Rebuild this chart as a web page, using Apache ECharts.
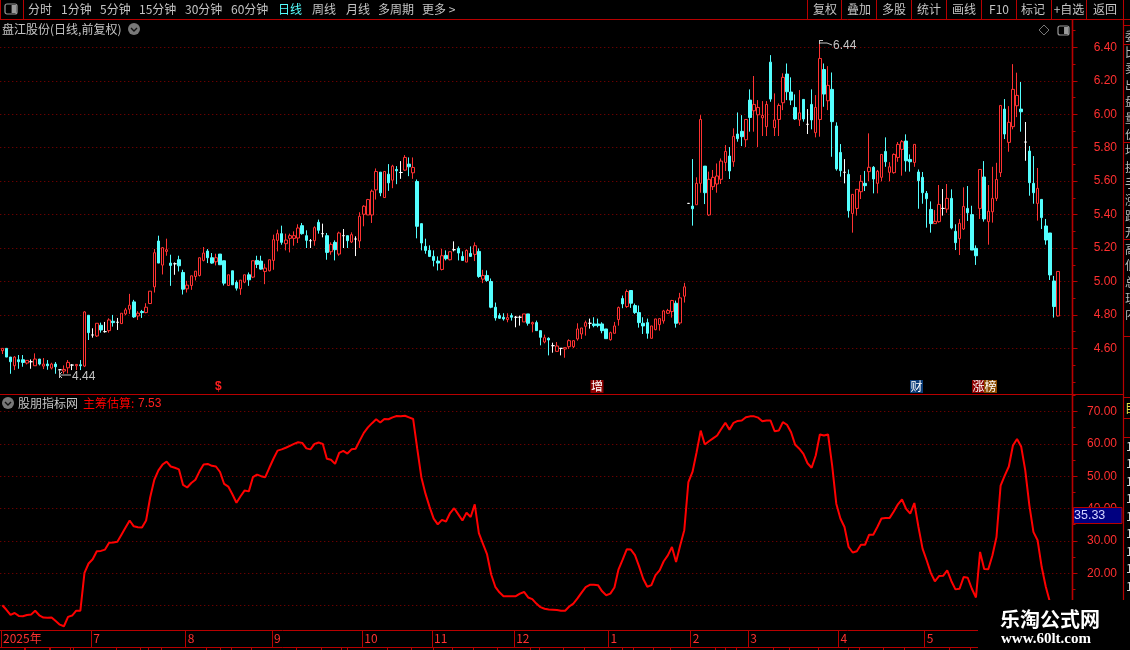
<!DOCTYPE html>
<html><head><meta charset="utf-8">
<style>html,body{margin:0;padding:0;background:#000;overflow:hidden}#c{width:1130px;height:650px}</style>
<script src="https://cdn.jsdelivr.net/npm/echarts@6/dist/echarts.min.js"></script>
</head><body><div id="c"></div>
<script>
const opens=[4.586,4.6,4.548,4.496,4.532,4.532,4.512,4.52,4.496,4.536,
4.494,4.506,4.482,4.506,4.472,4.464,4.484,4.5,4.496,4.502,
4.494,4.798,4.68,4.674,4.738,4.7,4.706,4.762,4.756,4.748,
4.806,4.834,4.878,4.794,4.82,4.814,4.868,4.968,5.242,5.098,
5.18,5.11,5.106,5.13,5.054,4.956,4.976,5.03,5.036,5.126,
5.182,5.142,5.118,5.164,5.124,4.976,5.064,4.994,4.956,4.996,
5.04,5.026,5.126,5.122,5.06,5.064,5.126,5.246,5.286,5.226,
5.258,5.258,5.26,5.334,5.274,5.244,5.244,5.354,5.286,5.274,
5.178,5.234,5.164,5.274,5.274,
5.236,5.254,5.242,5.402,5.398,5.398,5.548,5.654,5.502,5.642,
5.606,5.67,5.652,5.666,5.702,5.65,5.598,5.346,5.21,5.186,
5.15,5.122,5.072,5.156,5.13,5.19,5.198,5.15,5.116,5.168,
5.162,5.18,5.014,5.036,5.0,4.846,4.796,4.786,4.772,4.796,
4.786,4.786,4.758,4.806,4.746,4.754,4.706,4.638,4.66,4.616,
4.582,4.6,4.596,4.61,4.61,4.656,4.686,4.732,4.75,4.746,
4.746,4.746,4.716,4.652,4.69,4.772,4.898,4.85,4.946,4.856,
4.814,4.75,4.754,4.66,4.712,4.742,4.764,4.81,4.82,4.87,
4.752,4.912,5.467,
5.451,5.459,5.587,5.69,5.398,5.567,5.583,5.611,5.712,5.75,
5.716,5.882,5.898,5.848,6.085,6.021,5.997,5.979,5.926,6.312,
5.92,5.969,6.069,6.241,6.133,6.041,5.966,6.089,5.94,6.059,
5.89,5.969,6.268,6.081,6.149,5.93,5.772,5.653,5.641,5.407,
5.437,5.537,5.587,5.657,5.683,5.587,
5.623,5.778,5.653,5.651,5.742,5.79,5.84,5.73,5.712,5.655,
5.623,5.527,5.431,5.346,5.358,5.437,5.433,5.497,5.3,5.256,
5.314,5.437,5.4,5.198,5.437,5.625,5.358,5.417,5.497,5.651,
6.031,5.832,5.926,6.051,6.031,5.834,5.78,5.587,5.467,5.491,
5.332,5.29,5.003,4.794];
const closes=[4.6,4.548,4.52,4.548,4.52,4.516,4.528,4.52,4.536,4.506,
4.506,4.496,4.506,4.49,4.472,4.474,4.516,4.5,4.504,4.496,
4.818,4.694,4.68,4.75,4.71,4.7,4.77,4.754,4.756,4.81,
4.83,4.858,4.788,4.81,4.814,4.846,4.942,5.172,5.11,5.202,
5.19,5.096,5.106,5.094,4.954,4.978,5.034,5.062,5.142,5.17,
5.142,5.11,5.142,5.1,4.99,5.04,4.98,4.96,5.008,5.04,
5.01,5.124,5.102,5.074,5.08,5.13,5.25,5.286,5.234,5.248,
5.274,5.274,5.32,5.286,5.246,5.244,5.322,5.306,5.286,5.174,
5.222,5.19,5.29,5.274,5.244,
5.28,5.254,5.39,5.45,5.49,5.54,5.658,5.53,5.658,5.59,
5.69,5.662,5.652,5.742,5.686,5.682,5.33,5.23,5.186,5.15,
5.126,5.11,5.154,5.136,5.178,5.19,5.17,5.126,5.186,5.15,
5.214,5.03,5.036,5.006,4.846,4.782,4.78,4.776,4.784,4.786,
4.786,4.786,4.806,4.75,4.754,4.706,4.666,4.664,4.65,4.616,
4.614,4.6,4.604,4.646,4.646,4.716,4.722,4.754,4.75,4.736,
4.736,4.706,4.658,4.694,4.734,4.844,4.866,4.94,4.87,4.814,
4.754,4.734,4.69,4.734,4.776,4.778,4.824,4.826,4.886,4.75,
4.902,4.968,5.467,
5.435,5.587,5.969,5.531,5.611,5.623,5.631,5.72,5.778,5.661,
5.868,5.854,5.866,5.969,5.981,6.059,6.041,5.993,6.059,6.091,
5.966,6.053,6.221,6.135,6.085,5.972,6.009,5.972,5.94,5.966,
6.041,6.334,6.121,6.173,5.956,5.673,5.663,5.653,5.423,5.521,
5.551,5.599,5.573,5.683,5.613,5.659,
5.76,5.716,5.686,5.76,5.82,5.836,5.722,5.716,5.82,5.603,
5.531,5.495,5.346,5.36,5.461,5.437,5.497,5.32,5.232,5.348,
5.449,5.411,5.188,5.154,5.67,5.374,5.42,5.497,5.61,6.053,
5.882,5.952,6.149,6.113,6.015,5.834,5.591,5.531,5.557,5.382,
5.248,5.039,4.85,5.06];
const highs=[4.6,4.6,4.548,4.554,4.56,4.56,4.53,4.534,4.57,4.536,
4.542,4.53,4.514,4.518,4.476,4.498,4.53,4.506,4.504,4.53,
4.822,4.798,4.72,4.75,4.754,4.758,4.78,4.8,4.782,4.81,
4.842,4.926,4.89,4.822,4.83,4.87,4.942,5.194,5.274,5.206,
5.256,5.16,5.114,5.154,5.07,5.004,5.034,5.062,5.142,5.206,
5.194,5.17,5.166,5.164,5.124,5.04,5.064,5.006,5.008,5.04,
5.054,5.124,5.154,5.154,5.106,5.13,5.28,5.31,5.334,5.286,
5.286,5.3,5.342,5.35,5.306,5.254,5.33,5.37,5.346,5.29,
5.234,5.246,5.298,5.314,5.274,
5.294,5.27,5.414,5.456,5.494,5.55,5.676,5.654,5.658,5.702,
5.698,5.69,5.72,5.756,5.742,5.742,5.61,5.346,5.256,5.216,
5.186,5.15,5.196,5.186,5.178,5.24,5.21,5.18,5.192,5.21,
5.234,5.198,5.07,5.066,5.018,4.874,4.81,4.81,4.81,4.81,
4.794,4.796,4.806,4.806,4.76,4.766,4.706,4.682,4.666,4.634,
4.638,4.602,4.606,4.654,4.648,4.75,4.722,4.766,4.778,4.786,
4.778,4.756,4.716,4.7,4.758,4.85,4.916,4.952,4.946,4.868,
4.856,4.786,4.778,4.734,4.776,4.778,4.83,4.836,4.89,4.886,
4.932,4.992,5.467,
5.732,5.623,5.995,5.69,5.657,5.667,5.706,5.736,5.816,5.804,
5.916,6.011,5.995,5.969,6.149,6.229,6.085,6.079,6.079,6.354,
6.125,6.065,6.245,6.304,6.221,6.119,6.145,6.089,6.031,6.149,
6.115,6.44,6.304,6.288,6.25,5.952,5.822,5.732,5.67,5.521,
5.551,5.637,5.661,5.886,5.69,5.667,
5.76,5.862,5.714,5.766,5.834,5.846,5.88,5.76,5.82,5.67,
5.655,5.541,5.479,5.427,5.577,5.553,5.583,5.551,5.342,5.374,
5.563,5.571,5.453,5.216,5.67,5.72,5.577,5.686,5.71,6.053,
6.091,6.049,6.3,6.249,6.193,5.954,5.81,5.75,5.679,5.491,
5.374,5.29,5.033,5.06];
const lows=[4.566,4.548,4.448,4.47,4.478,4.49,4.504,4.478,4.496,4.498,
4.476,4.472,4.474,4.448,4.44,4.448,4.45,4.47,4.47,4.47,
4.488,4.65,4.664,4.668,4.694,4.694,4.694,4.73,4.71,4.748,
4.798,4.806,4.782,4.77,4.782,4.81,4.868,4.934,5.11,5.042,
5.154,4.974,5.04,5.06,4.922,4.934,4.95,5.006,5.03,5.12,
5.11,5.106,5.096,5.1,4.976,4.976,4.98,4.946,4.92,4.99,
4.974,5.02,5.08,5.07,4.984,5.06,5.07,5.18,5.22,5.186,
5.174,5.214,5.23,5.28,5.2,5.2,5.214,5.286,5.264,5.13,
5.16,5.126,5.154,5.2,5.2,
5.23,5.152,5.2,5.33,5.398,5.35,5.49,5.51,5.5,5.542,
5.558,5.582,5.614,5.662,5.63,5.614,5.258,5.186,5.166,5.146,
5.09,5.066,5.066,5.126,5.126,5.18,5.126,5.126,5.116,5.15,
5.122,5.022,4.99,4.998,4.84,4.766,4.776,4.766,4.756,4.766,
4.726,4.736,4.758,4.736,4.696,4.706,4.618,4.63,4.558,4.574,
4.58,4.558,4.544,4.596,4.602,4.646,4.656,4.676,4.718,4.726,
4.726,4.69,4.658,4.646,4.69,4.736,4.84,4.842,4.842,4.806,
4.724,4.686,4.658,4.66,4.708,4.706,4.748,4.806,4.784,4.724,
4.74,4.874,5.467,
5.334,5.459,5.531,5.463,5.392,5.547,5.531,5.583,5.661,5.613,
5.686,5.836,5.81,5.804,5.896,5.896,5.804,5.87,5.87,6.075,
5.87,5.87,6.025,6.085,6.055,5.966,5.93,5.956,5.882,5.91,
5.862,5.866,6.045,6.025,5.746,5.663,5.627,5.587,5.382,5.292,
5.394,5.493,5.541,5.601,5.527,5.527,
5.599,5.686,5.599,5.645,5.716,5.633,5.657,5.657,5.686,5.435,
5.465,5.322,5.292,5.344,5.352,5.394,5.411,5.312,5.188,5.158,
5.308,5.362,5.188,5.099,5.374,5.358,5.22,5.352,5.481,5.625,
5.852,5.776,5.91,5.983,5.896,5.722,5.513,5.465,5.364,5.314,
5.22,5.009,4.784,4.79];
const chipEstimate=[10.1,8.7,7.1,7.7,6.8,6.7,7.1,7.2,8.4,7.0,
6.3,6.2,6.3,5.2,4.1,3.6,6.5,6.9,8.4,8.4,
20.1,23.0,24.3,26.8,26.9,27.3,29.4,29.5,29.7,31.9,
34.1,36.3,34.5,34.2,34.1,36.3,43.5,48.9,51.8,53.6,
54.5,53.0,52.6,52.1,47.3,46.5,47.9,48.9,51.5,53.6,
53.8,53.2,53.0,51.3,47.6,46.8,44.4,41.8,43.8,45.6,
45.3,49.7,50.5,50.0,49.7,52.6,55.4,57.9,58.3,58.8,
59.4,60.0,60.5,60.3,58.6,58.3,60.0,60.4,60.0,55.4,
55.1,53.8,57.2,57.8,57.0,58.3,58.5,61.0,63.4,65.1,
66.4,67.6,66.6,67.7,67.6,68.2,68.6,68.5,68.7,68.2,
67.7,58.5,49.7,44.6,40.5,36.9,35.1,36.5,36.0,38.6,
40.1,38.2,36.3,38.7,37.4,41.3,32.4,29.1,25.8,19.6,
15.8,14.1,12.9,12.9,12.9,12.9,13.7,14.2,12.5,12.0,
10.6,9.5,9.0,8.8,8.7,8.6,8.4,8.4,9.7,10.6,
12.2,14.0,15.7,16.4,16.4,16.3,14.4,13.2,13.7,15.6,
21.2,24.2,27.4,27.3,25.6,22.1,18.3,15.8,16.3,19.4,
20.9,23.7,25.5,28.1,23.5,28.6,33.3,48.2,51.3,57.4,
64.1,59.8,60.8,61.7,62.6,64.6,66.5,64.4,66.5,67.1,
67.2,68.2,68.5,68.5,68.1,67.0,67.2,67.2,63.9,64.1,
66.7,65.9,63.6,59.7,58.5,56.9,54.0,52.6,56.4,62.9,
62.6,62.9,53.3,41.5,36.9,34.3,28.1,26.4,26.8,28.8,
28.8,31.9,31.9,34.3,36.9,37.1,37.1,39.1,41.3,42.8,
39.9,38.4,41.7,34.3,27.6,24.0,20.1,17.5,19.1,19.2,
20.9,17.6,15.0,15.2,18.8,18.6,15.2,12.5,26.6,21.3,
21.2,25.5,31.2,47.1,50.2,53.0,59.5,61.5,59.2,51.8,
41.0,32.7,30.2,21.9,15.8,11.1,9.4,7.53];

const categories=Array.from({length:261},(_,i)=>String(i));
const priceTicks=[4.6,4.8,5.0,5.2,5.4,5.6,5.8,6.0,6.2,6.4];
const priceMinorTicks=[4.4,4.5,4.7,4.9,5.1,5.3,5.5,5.7,5.9,6.1,6.3,6.5];
const indicatorTicks=[10,20,30,40,50,60,70];
const indicatorMinorTicks=[5,15,25,35,45,55,65,75];
const monthIndex=[0,22,45,66,88,105,125,148,168,182,204,225];
const monthLabels=['2025年','7','8','9','10','11','12','1','2','3','4','5'];
const weekIndex=[6,12,17,28,34,39,50,56,61,72,78,83,94,100,110,115,121,131,137,142,154,159,163,174,179,188,192,199,209,215,220,231,236];
const leftTools=['分时','1分钟','5分钟','15分钟','30分钟','60分钟','日线','周线','月线','多周期','更多 >'];
const leftToolX=[28,61,100,139,185,231,278,312,346,378,422];
const rightTools=['复权','叠加','多股','统计','画线','F10','标记','+自选','返回'];
const rightToolX=[825,859,894,929,964,999,1033,1069,1105];
const rightToolSep=[807.5,841.5,876.5,911.5,946.5,981.5,1016.5,1051.5,1086.5];

const FRAME='#b80000',TXT='#ff3030',GREY='#c4c4c4',CJK='"Noto Sans CJK SC",sans-serif',NUM='"Liberation Sans",sans-serif';
const line=(x1,y1,x2,y2,c=FRAME,w=1)=>({type:'line',shape:{x1,y1,x2,y2},style:{stroke:c,lineWidth:w}});
const text=(t,x,y,c,font,o={})=>({type:'text',x,y,style:Object.assign({text:t,fill:c,font,textVerticalAlign:'middle'},o)});
const rect=(x,y,w,h,fill,stroke)=>({type:'rect',shape:{x,y,width:w,height:h},style:{fill:fill,stroke:stroke||null}});
const F12=`12px ${CJK}`;
const chevron=(cx,cy)=>[{type:'circle',shape:{cx,cy,r:6},style:{fill:'#787878'}},
 {type:'polyline',shape:{points:[[cx-3,cy-1],[cx,cy+2],[cx+3,cy-1]]},style:{stroke:'#111',fill:null,lineWidth:1.4}}];
const panelIcon=(x,y,w,h)=>[{type:'rect',shape:{x,y,width:w,height:h,r:2},style:{fill:'#000',stroke:'#9a9a9a',lineWidth:1.2}},
 rect(x+w*0.55,y+1,w*0.4,h-2,'#9a9a9a')];

const els=[];
// toolbar
els.push(line(0,19.5,1130,19.5),line(0.5,0,0.5,19.5),line(23.5,0,23.5,19.5));
els.push(...panelIcon(5,4,12,10));
leftTools.forEach((t,i)=>els.push(text(t,leftToolX[i],9.5,i===6?'#55ffff':GREY,F12)));
rightTools.forEach((t,i)=>els.push(text(t,rightToolX[i],9.5,GREY,F12,{textAlign:'center'})));
rightToolSep.forEach(x=>els.push(line(x,0,x,19.5)));
els.push(line(1123.5,0,1123.5,19.5));
// titles
els.push(text('盘江股份(日线,前复权)',2,29.5,GREY,F12));
els.push(...chevron(134,29));
els.push({type:'polygon',shape:{points:[[1044,25],[1049,30],[1044,35],[1039,30]]},style:{fill:null,stroke:'#777'}});
els.push(...panelIcon(1058,26,11,9));
els.push(...chevron(8,403));
els.push(text('股朋指标网',18,403.5,GREY,F12));
els.push(text('主筹估算:',83,403.5,'#ff0000',F12));
els.push(text('7.53',138,403.5,'#ff2020',`12px ${NUM}`));
// panel frames
els.push(line(0,394.5,1123,394.5,FRAME,1.2),line(0,630.5,1130,630.5),line(0,647.5,1130,647.5));
els.push(line(1072.5,19.5,1072.5,647,FRAME,1.6),line(1123.5,19.5,1123.5,647,FRAME,1.2));
// high / low notes
els.push(line(59.5,370,59.5,378,GREY),line(59,375,71,375,GREY),line(59,375,62,372,GREY),line(59,375,62,378,GREY));
els.push(text('4.44',72,376.5,GREY,`12px ${NUM}`));
els.push(line(819.5,40,819.5,44,GREY),line(819,40.5,823,40.5,GREY),line(820,43,827,43,GREY),line(827,43,832,45,GREY));
els.push(text('6.44',833,45.5,GREY,`12px ${NUM}`));
// event markers
els.push(text('$',215,386.5,'#ff2020',`bold 12px ${NUM}`));
const badge=(t,x,c)=>{els.push(rect(x,380,13,13,c));els.push(text(t,x+0.5,386.5,'#fff',F12));};
badge('增',590.5,'#8c0000');badge('财',910,'#0a3c78');badge('涨',972,'#8c0000');badge('榜',984,'#8a4a00');
// right strip
[25,44,142,239,336,397,418,437].forEach(y=>els.push(line(1123.5,y+.5,1130,y+.5)));
['委','比','卖','出','盘','量','价','均','换','手','涨','跌','开','高','低','总','现','内'].forEach((c,i)=>els.push(text(c,1125,36+i*16.4,'#b8b8b8',F12)));
els.push(text('目',1125,408,'#e0e040',F12));
for(let i=0;i<9;i++)els.push(text('1',1126,446+i*17.5,'#d8d8d8',F12));
// value box
els.push(rect(1073.5,507.5,48.5,16,'#000080',FRAME));
els.push(text('35.33',1074,516,'#d4d4ff',`12.5px ${NUM}`));
// bottom row fragments
[24,49,73,116,148,220,347,433,530,622,725,848].forEach(x=>els.push(line(x+0.5,647,x+0.5,650)));
// watermark
els.push(rect(978,600,152,50,'#000'));
els.push(text('乐淘公式网',1000,619.5,'#fff',`bold 20px ${CJK}`,{shadowColor:'#4060a0',shadowBlur:3}));
els.push(text('www.60lt.com',1001,639.5,'#fff',`bold 15px "Liberation Serif",serif`,{shadowColor:'#4060a0',shadowBlur:2}));
els.forEach(e=>{e.z=100;e.zlevel=1;});

const splitDots={show:true,lineStyle:{color:'#8c0000',type:[1,3],width:1}};
const PL=0.25,PW=1072.25;
const hiddenX=g=>({type:'category',gridIndex:g,data:categories,show:false,boundaryGap:true});
const yMain=(g,min,max,ticks)=>({type:'value',gridIndex:g,position:'right',min,max,scale:true,
 axisLine:{show:false},
 axisTick:{show:true,length:5,lineStyle:{color:FRAME},customValues:ticks},
 axisLabel:{show:true,customValues:ticks,formatter:v=>v.toFixed(2),color:TXT,fontFamily:NUM,fontSize:12,align:'right',margin:44.5},
 splitLine:splitDots});
const yMinor=(g,min,max,ticks)=>({type:'value',gridIndex:g,position:'right',min,max,
 axisLine:{show:false},axisLabel:{show:false},splitLine:{show:false},
 axisTick:{show:true,length:3,lineStyle:{color:FRAME},customValues:ticks}});
const P=[4.324,6.567],I=[2.44,75.26];

const chart=echarts.init(document.getElementById('c'),null,{renderer:'canvas'});
chart.setOption({
 backgroundColor:'#000',animation:false,
 grid:[{left:PL,width:PW,top:19.5,height:375},{left:PL,width:PW,top:394.5,height:235.5},{left:PL,width:PW,top:630.5,height:17}],
 xAxis:[hiddenX(0),hiddenX(1),{type:'category',gridIndex:2,data:categories,position:'top',boundaryGap:true,
   axisLine:{show:false},
   axisTick:{show:true,inside:true,length:3,lineStyle:{color:FRAME},interval:i=>weekIndex.includes(i)},
   splitLine:{show:true,lineStyle:{color:FRAME,width:1},interval:i=>monthIndex.includes(i)},
   axisLabel:{show:true,inside:true,margin:2,align:'left',verticalAlign:'top',color:TXT,fontFamily:CJK,fontSize:12,
     interval:i=>monthIndex.includes(i),formatter:(v,i)=>monthLabels[monthIndex.indexOf(+v)]||''}}],
 yAxis:[yMain(0,P[0],P[1],priceTicks),yMain(1,I[0],I[1],indicatorTicks),
   {type:'value',gridIndex:2,min:0,max:1,show:false},
   yMinor(0,P[0],P[1],priceMinorTicks),yMinor(1,I[0],I[1],indicatorMinorTicks)],
 series:[
  {type:'candlestick',xAxisIndex:0,yAxisIndex:0,barWidth:3,silent:true,
   data:opens.map((o,i)=>[o,closes[i],lows[i],highs[i]]),
   itemStyle:{color:'#000',color0:'#54ffff',borderColor:'#ff3232',borderColor0:'#54ffff',borderColorDoji:'#ffffff',borderWidth:1}},
  {type:'line',name:'主筹估算',xAxisIndex:1,yAxisIndex:1,data:chipEstimate,showSymbol:false,silent:true,
   lineStyle:{color:'#ff0000',width:2},itemStyle:{color:'#ff0000'}}
 ],
 graphic:{z:100,zlevel:1,elements:els}
});
</script></body></html>
